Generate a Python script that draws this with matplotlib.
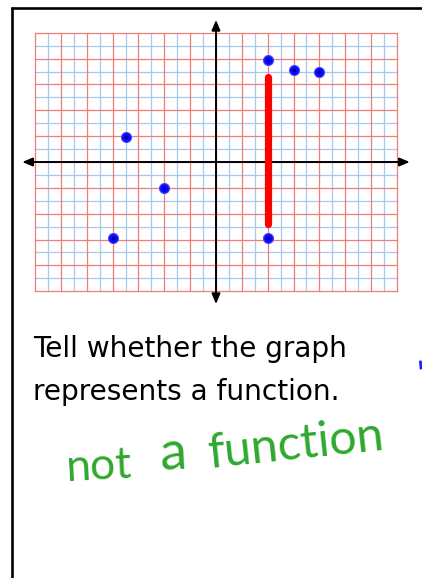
import matplotlib
matplotlib.use('Agg')
import matplotlib.pyplot as plt

# grid is 28 x 20 small squares, red lines every 2 squares
grid_x = 14
grid_y = 10

# points (small-square units)
pts_x = [-7, -4, -8, 4, 6, 8, 4]
pts_y = [1.9, -2.0, -5.9, 7.9, 7.1, 6.95, -5.9]

# thick red vertical segment
seg_x = [4.05, 4.05]
seg_y = [6.6, -4.8]

question = ['Tell whether the graph', 'represents a function.']
answer = ['not', 'a', 'function']

# pixel layout of the page
W, H = 422, 578
C = 12.92          # pixels per small square
X0, Y0 = 216, 162  # origin in pixels


def px(x, y):
    return (x - X0) / C, (Y0 - y) / C


fig = plt.figure(figsize=(W / 100, H / 100), dpi=100, facecolor='w')
ax = fig.add_axes([0, 0, 1, 1])
ax.set_xlim(-X0 / C, (W - X0) / C)
ax.set_ylim((Y0 - H) / C, Y0 / C)
ax.axis('off')

# graph paper
for i in range(-grid_x, grid_x + 1):
    if i % 2:
        ax.plot([i, i], [-grid_y, grid_y], color='#a6c8ee', lw=0.9, zorder=1)
for j in range(-grid_y, grid_y + 1):
    if j % 2:
        ax.plot([-grid_x, grid_x], [j, j], color='#a6c8ee', lw=0.9, zorder=1)
for i in range(-grid_x, grid_x + 1, 2):
    ax.plot([i, i], [-grid_y, grid_y], color='#f07c7c', lw=0.9, zorder=2)
for j in range(-grid_y, grid_y + 1, 2):
    ax.plot([-grid_x, grid_x], [j, j], color='#f07c7c', lw=0.9, zorder=2)

# axes with arrows
arw = dict(arrowstyle='<|-|>,head_length=0.6,head_width=0.25', mutation_scale=10,
           lw=1.4, color='k', shrinkA=0, shrinkB=0)
ax.annotate('', xy=(15, 0), xytext=(-15, 0), arrowprops=arw, zorder=3)
ax.annotate('', xy=(0, 11), xytext=(0, -11), arrowprops=arw, zorder=3)

# red segment and blue points
ax.plot(seg_x, seg_y, color='#ff0000', lw=5.2, solid_capstyle='round', zorder=4)
ax.plot(pts_x, pts_y, 'o', ms=7.2, color='#0a0aff', mec='#4a4aff', mew=0.8, zorder=5)
ax.plot(pts_x, pts_y, 'o', ms=2.5, color='#000090', mew=0, zorder=6)

# page border (left and top only)
bx, by0 = px(12.2, 6.7)
_, by1 = px(12.2, H)
ax.plot([bx, bx], [by0, by1], color='k', lw=1.9, clip_on=False, solid_capstyle='butt')
tx0, ty = px(11, 8)
tx1, _ = px(W, 8)
ax.plot([tx0, tx1], [ty, ty], color='k', lw=1.9, clip_on=False, solid_capstyle='butt')

# stray pen mark at right edge
m0 = px(420.5, 362)
m1 = px(421, 368)
ax.plot([m0[0], m1[0]], [m0[1], m1[1]], color='#2020ff', lw=2.0, clip_on=False)

# question text
for k, line in enumerate(question):
    x, y = px(33, 356.7 + 43.3 * k)
    ax.text(x, y, line, fontsize=20.2, family='DejaVu Sans', color='k',
            ha='left', va='baseline')

# handwritten answer, each word fitted to its width
fig.canvas.draw()
rend = fig.canvas.get_renderer()
word_pos = [(67, 481, 66, 3), (160, 470, 27, 3), (210, 468, 177, 6)]
for word, (x0, y0, wpx, rot) in zip(answer, word_pos):
    x, y = px(x0, y0)
    t = ax.text(x, y, word, fontsize=30, color='#2fa82f', rotation=0,
                rotation_mode='anchor', ha='left', va='baseline',
                family=['Lato', 'DejaVu Sans'], fontweight='normal')
    w = t.get_window_extent(rend).width
    t.set_fontsize(30 * wpx / w)
    t.set_rotation(rot)

fig.savefig('out.png', dpi=100, facecolor='w')
